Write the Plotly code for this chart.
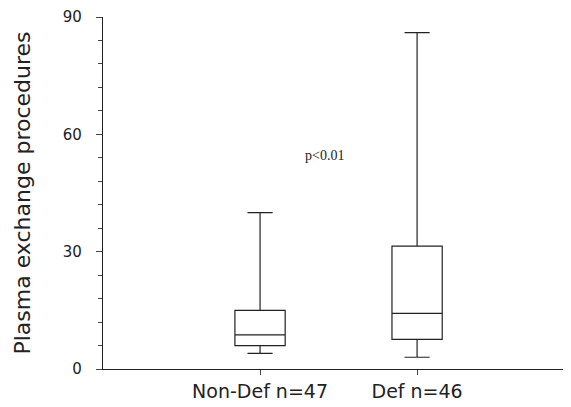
import plotly.graph_objects as go

categories = ["Non-Def n=47", "Def n=46"]
positions = [0, 1]
lower_whisker = [4.0, 3.0]
q1_vals = [6.0, 7.6]
median_vals = [8.7, 14.2]
q3_vals = [15.0, 31.4]
upper_whisker = [40.0, 86.0]
y_ticks = [0, 30, 60, 90]
annotation_text = "p<0.01"
annotation_pos = (0.41, 54.7)

fig = go.Figure()
for i in range(len(categories)):
    fig.add_trace(go.Box(
        x=[positions[i]],
        q1=[q1_vals[i]], median=[median_vals[i]], q3=[q3_vals[i]],
        lowerfence=[lower_whisker[i]], upperfence=[upper_whisker[i]],
        width=0.32, whiskerwidth=0.5,
        fillcolor="rgba(0,0,0,0)",
        line=dict(color="#222222", width=1.2),
        boxpoints=False, showlegend=False, name=categories[i],
    ))

fig.add_annotation(x=annotation_pos[0], y=annotation_pos[1], text=annotation_text,
                   showarrow=False, font=dict(family="Liberation Serif", size=14, color="#222"))

# page body has an 8px default margin, so the figure is sized to fit the window
fig.update_layout(
    width=563, height=399,
    margin=dict(l=95, r=0, t=9, b=38),
    plot_bgcolor="white", paper_bgcolor="white",
    font=dict(family="DejaVu Sans", color="#222"),
)
fig.update_xaxes(
    range=[-1.0, 1.98], tickvals=positions, ticktext=categories,
    showline=True, linecolor="#222", linewidth=1.3,
    ticks="outside", ticklen=5, tickcolor="#444", tickwidth=1,
    showgrid=False, zeroline=False, tickfont=dict(size=19),
    ticklabelstandoff=0, automargin=False,
)
fig.update_yaxes(
    range=[0, 90], tickvals=y_ticks,
    showline=True, linecolor="#222", linewidth=1.3,
    ticks="outside", ticklen=6, tickcolor="#444", tickwidth=1,
    minor=dict(dtick=6, ticks="outside", ticklen=4, tickcolor="#444", tickwidth=1),
    showgrid=False, zeroline=False, tickfont=dict(size=15),
    ticklabelstandoff=11, automargin=False,
    title=dict(text="Plasma exchange procedures", font=dict(size=22), standoff=26),
)
fig.write_html("out.html")
